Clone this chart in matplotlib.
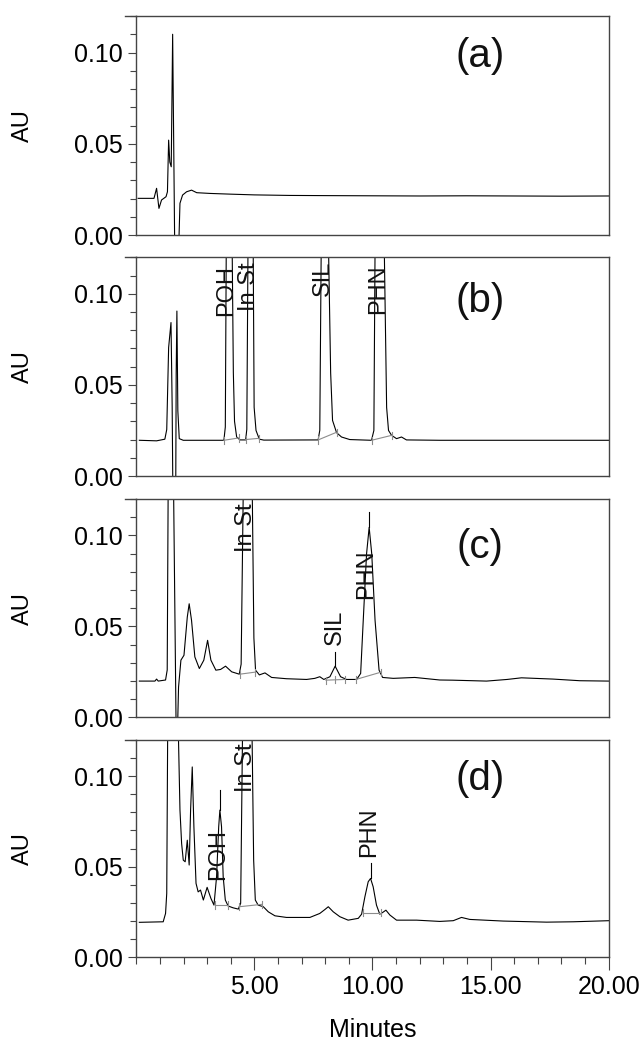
import matplotlib
matplotlib.use("Agg")
import matplotlib.pyplot as plt
from matplotlib.ticker import FixedLocator, MultipleLocator, FormatStrFormatter

plt.rcParams["font.family"] = ["Liberation Sans", "DejaVu Sans"]

# ---- chromatogram traces (minutes, AU) ----
# peaks that run off the top of the frame are given a nominal apex
time_a = [0.08, 0.75, 0.86, 0.96, 1.07, 1.26, 1.32, 1.37, 1.42, 1.48, 1.54, 1.63,
          1.79, 1.85, 1.96, 2.13, 2.34, 2.56, 3.12, 4.0, 5.0, 6.5, 8.0, 10.0,
          12.0, 14.0, 16.0, 18.0, 20.0]
au_a = [0.0201, 0.0201, 0.0256, 0.0146, 0.0192, 0.0210, 0.0237, 0.0520, 0.0400,
        0.0374, 0.1100, -0.0100, -0.0100, 0.0174, 0.0219, 0.0237, 0.0246, 0.0232,
        0.0228, 0.0224, 0.0220, 0.0217, 0.0216, 0.0215, 0.0214, 0.0215, 0.0214,
        0.0213, 0.0214]

time_b = [0.13, 0.86, 1.21, 1.29, 1.37, 1.47, 1.52, 1.55, 1.67, 1.69, 1.72, 1.76,
          1.82, 1.99, 3.54, 3.71, 3.77, 3.81, 3.94, 4.06, 4.11, 4.16, 4.25, 4.39,
          4.63, 4.68, 4.73, 4.84, 4.95, 4.99, 5.07, 5.21, 5.40, 7.70, 7.77, 7.83,
          8.00, 8.14, 8.23, 8.31, 8.48, 8.69, 9.04, 9.96, 10.06, 10.11, 10.31,
          10.50, 10.60, 10.68, 10.81, 11.02, 11.23, 11.44, 12.85, 16.0, 20.0]
au_b = [0.0196, 0.0193, 0.0202, 0.0255, 0.0705, 0.0842, 0.0380, -0.0100, -0.0100,
        0.0560, 0.0905, 0.0358, 0.0205, 0.0196, 0.0196, 0.0196, 0.0269, 0.1250,
        0.1600, 0.1250, 0.0567, 0.0300, 0.0214, 0.0198, 0.0198, 0.0256, 0.1250,
        0.1600, 0.1250, 0.0377, 0.0250, 0.0202, 0.0197, 0.0198, 0.0251, 0.1250,
        0.1600, 0.1250, 0.0566, 0.0305, 0.0238, 0.0214, 0.0200, 0.0196, 0.0250,
        0.1250, 0.1600, 0.1250, 0.0376, 0.0250, 0.0223, 0.0205, 0.0214, 0.0198,
        0.0196, 0.0196, 0.0196]

time_c = [0.13, 0.79, 0.86, 0.93, 1.24, 1.31, 1.35, 1.47, 1.58, 1.69, 1.74, 1.79,
          1.89, 2.02, 2.16, 2.24, 2.34, 2.48, 2.67, 2.86, 3.02, 3.16, 3.37, 3.57,
          3.78, 4.04, 4.36, 4.44, 4.53, 4.71, 4.91, 4.98, 5.05, 5.21, 5.45, 5.73,
          6.36, 7.21, 7.56, 7.77, 7.94, 8.20, 8.42, 8.65, 8.90, 9.33, 9.50, 9.61,
          9.75, 9.86, 9.97, 10.11, 10.28, 10.43, 10.88, 11.79, 12.85, 13.40, 14.83,
          15.70, 16.31, 17.65, 18.78, 20.0]
au_c = [0.0199, 0.0199, 0.0210, 0.0199, 0.0205, 0.0260, 0.1250, 0.2000, 0.1250,
        -0.0100, -0.0100, 0.0166, 0.0314, 0.0341, 0.0551, 0.0624, 0.0533, 0.0332,
        0.0268, 0.0314, 0.0423, 0.0314, 0.0259, 0.0263, 0.0281, 0.0250, 0.0237,
        0.0292, 0.1250, 0.2000, 0.1250, 0.0436, 0.0259, 0.0233, 0.0244, 0.0219,
        0.0212, 0.0208, 0.0214, 0.0223, 0.0208, 0.0223, 0.0281, 0.0223, 0.0208,
        0.0208, 0.0241, 0.0533, 0.0898, 0.1044, 0.0898, 0.0533, 0.0259, 0.0219,
        0.0214, 0.0219, 0.0205, 0.0204, 0.0199, 0.0208, 0.0217, 0.0210, 0.0201,
        0.0199]

time_d = [0.13, 1.14, 1.24, 1.29, 1.33, 1.54, 1.78, 1.85, 1.92, 1.99, 2.07, 2.16,
          2.24, 2.30, 2.37, 2.44, 2.53, 2.62, 2.72, 2.84, 3.00, 3.16, 3.29, 3.40,
          3.49, 3.54, 3.61, 3.68, 3.77, 3.89, 4.10, 4.32, 4.42, 4.50, 4.70, 4.90,
          4.97, 5.04, 5.16, 5.38, 5.59, 5.87, 6.36, 7.35, 7.77, 7.99, 8.13, 8.34,
          8.62, 8.97, 9.40, 9.54, 9.68, 9.82, 9.92, 10.03, 10.17, 10.31, 10.45,
          10.57, 10.74, 11.02, 11.87, 12.85, 13.42, 13.77, 14.12, 15.53, 17.37,
          18.50, 20.0]
au_d = [0.0193, 0.0196, 0.0242, 0.0353, 0.1250, 0.2000, 0.1250, 0.0812, 0.0628,
        0.0536, 0.0527, 0.0646, 0.0509, 0.0812, 0.1050, 0.0720, 0.0408, 0.0361,
        0.0371, 0.0316, 0.0386, 0.0325, 0.0288, 0.0444, 0.0720, 0.0812, 0.0720,
        0.0444, 0.0316, 0.0283, 0.0273, 0.0266, 0.0298, 0.1250, 0.2000, 0.1250,
        0.0536, 0.0316, 0.0288, 0.0279, 0.0251, 0.0229, 0.0220, 0.0220, 0.0242,
        0.0264, 0.0279, 0.0251, 0.0224, 0.0205, 0.0215, 0.0238, 0.0334, 0.0417,
        0.0435, 0.0389, 0.0288, 0.0238, 0.0249, 0.0260, 0.0233, 0.0205, 0.0205,
        0.0198, 0.0202, 0.0220, 0.0209, 0.0200, 0.0194, 0.0196, 0.0202]

# ---- integration baselines: (t start, AU start, t end, AU end) ----
base_b = [(3.71, 0.0196, 4.35, 0.0209), (4.63, 0.0200, 5.21, 0.0207),
          (7.70, 0.0198, 8.48, 0.0240), (9.96, 0.0196, 10.81, 0.0223)]
base_c = [(4.39, 0.0237, 5.02, 0.0248), (8.03, 0.0204, 8.83, 0.0208),
          (9.30, 0.0208, 10.36, 0.0248)]
base_d = [(3.33, 0.0288, 3.89, 0.0288), (4.36, 0.0279, 5.31, 0.0292),
          (9.61, 0.0246, 10.36, 0.0246)]
extra_ticks_c = [(8.41, 0.0206)]

# ---- peak labels: (name, t, AU at start of text) ----
labels_b = [("POH", 3.81, 0.0878), ("In St", 4.78, 0.0905),
            ("SIL", 7.89, 0.0987), ("PHN", 10.24, 0.0890)]
labels_c = [("In St", 4.63, 0.0907), ("SIL", 8.41, 0.0396), ("PHN", 9.75, 0.0652)]
labels_d = [("POH", 3.47, 0.0426), ("In St", 4.63, 0.0912), ("PHN", 9.86, 0.0554)]

# ---- label drop lines above apex: (t, AU apex, AU top) ----
marks_c = [(8.42, 0.0281, 0.0359), (9.86, 0.1044, 0.1126)]
marks_d = [(3.54, 0.0812, 0.0923), (9.92, 0.0435, 0.0518)]

panel_tags = ["(a)", "(b)", "(c)", "(d)"]
tag_y = [0.818, 0.80, 0.778, 0.82]

FRAME = "#444444"
GREY = "#8c8c8c"

fig = plt.figure(figsize=(6.44, 10.40), dpi=100)
left, width = 0.2116, 0.7335
boxes = [(0.7740, 0.2106), (0.5423, 0.2103), (0.3103, 0.2099), (0.0795, 0.2092)]

panels = [
    (time_a, au_a, [], [], [], []),
    (time_b, au_b, base_b, labels_b, [], []),
    (time_c, au_c, base_c, labels_c, marks_c, extra_ticks_c),
    (time_d, au_d, base_d, labels_d, marks_d, []),
]

for i, (t, au, bases, labs, marks, xt) in enumerate(panels):
    bottom, height = boxes[i]
    ax = fig.add_axes([left, bottom, width, height])
    ax.plot(t, au, color="black", lw=0.8)

    for t0, y0, t1, y1 in bases:
        ax.plot([t0, t1], [y0, y1], color=GREY, lw=0.8)
        for tt, yy in ((t0, y0), (t1, y1)):
            ax.plot([tt, tt], [yy - 0.002, yy + 0.002], color=GREY, lw=0.8)
    for tt, yy in xt:
        ax.plot([tt, tt], [yy - 0.002, yy + 0.002], color=GREY, lw=0.8)

    for tt, y0, y1 in marks:
        ax.plot([tt, tt], [y0, y1], color="black", lw=0.8)

    for name, tt, yy in labs:
        ax.text(tt, yy, name, rotation=90, ha="center", va="bottom",
                fontsize=17, color="#111111")

    ax.text(0.728, tag_y[i], panel_tags[i], transform=ax.transAxes,
            ha="center", va="center", fontsize=29, color="#111111")

    ax.set_xlim(0, 20)
    ax.set_ylim(0, 0.12)

    ax.yaxis.set_major_locator(FixedLocator([0.0, 0.05, 0.10]))
    ax.yaxis.set_minor_locator(MultipleLocator(0.01))
    ax.yaxis.set_major_formatter(FormatStrFormatter("%.2f"))
    ax.xaxis.set_major_locator(FixedLocator([5, 10, 15, 20]))
    ax.xaxis.set_minor_locator(MultipleLocator(1))
    ax.xaxis.set_major_formatter(FormatStrFormatter("%.2f"))

    ax.tick_params(axis="y", which="major", direction="out", length=6, width=0.8,
                   color=FRAME, labelsize=18, pad=4)
    ax.tick_params(axis="y", which="minor", direction="out", length=4, width=0.8,
                   color=FRAME)
    if i < 3:
        ax.tick_params(axis="x", which="both", bottom=False, labelbottom=False)
    else:
        ax.tick_params(axis="x", which="major", direction="out", length=9, width=0.8,
                       color=FRAME, labelsize=18, pad=4)
        ax.tick_params(axis="x", which="minor", direction="out", length=5, width=0.8,
                       color=FRAME)

    for s in ax.spines.values():
        s.set_color(FRAME)
        s.set_linewidth(1.0)
    # top border runs a little past the left axis
    ax.plot([-0.024, 0], [1, 1], transform=ax.transAxes, clip_on=False,
            color=FRAME, lw=1.0)

    fig.text(23.3 / 644, bottom + height / 2, "AU", rotation=90,
             ha="center", va="center", fontsize=17)

fig.text(373 / 644, 1 - 1030 / 1040, "Minutes", ha="center", va="center", fontsize=18)

fig.savefig("out.png", dpi=100)
